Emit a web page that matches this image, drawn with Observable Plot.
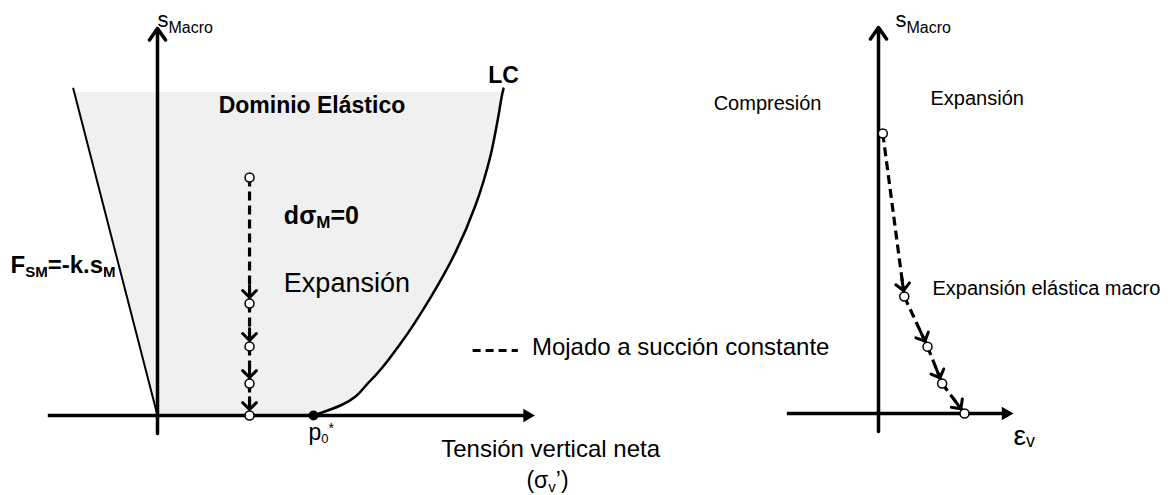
<!DOCTYPE html>
<html><head><meta charset="utf-8">
<script src="https://cdn.jsdelivr.net/npm/d3@7"></script>
<script src="https://cdn.jsdelivr.net/npm/@observablehq/plot@0.6"></script>
<style>
body{margin:0;background:#fff;}
#chart{position:relative;width:1171px;height:495px;overflow:hidden;}
#chart svg{position:absolute;left:0;top:0;}
</style></head><body><div id="chart"></div>
<script>
// ===== DATA (arbitrary schematic units) =====
// Left panel: net vertical stress σ'v (normalised by p0*) vs macro suction s_M
const p0Star = 1.0;
const lcSigma   = [1.000, 1.173, 1.365, 1.558, 1.750, 1.910, 2.038, 2.135, 2.186, 2.212, 2.218];
const lcSuction = [0.00, 0.31, 1.08, 2.23, 3.65, 5.05, 6.50, 8.05, 9.29, 10.00, 10.12];
const fsmSigma   = [0.00, -0.54];
const fsmSuction = [0.00, 10.12];
const elasticTop = 10.0;
const wetSigma = [0.59, 0.59, 0.59, 0.59, 0.59];
const wetSuctionLeft = [7.37, 3.47, 2.14, 0.99, 0.00];
// Right panel: volumetric strain ε_v vs macro suction s_M
const wetStrain = [0.05, 0.30, 0.57, 0.74, 1.00];
const wetSuctionRight = [8.67, 3.62, 2.07, 0.93, 0.00];
// Axis extents
const leftSigmaAxis = [-0.70, 2.42];
const leftSuctionAxis = [-0.56, 11.98];
const rightStrainAxis = [-1.06, 1.57];
const rightSuctionAxis = [-0.56, 11.95];
const legendSigma = [2.02, 2.31];
const legendSuction = 2.01;
// Texts
const txtSMacro = ["s", "Macro"];
const txtDomain = "Dominio Elástico";
const txtLC = "LC";
const txtDSigma = ["dσ", "M", "=0"];
const txtExp = "Expansión";
const txtFsm = ["F", "SM", "=-k.s", "M"];
const txtP0 = ["p", "0", "*"];
const txtXTitle = "Tensión vertical neta";
const txtXSym = ["(σ", "v", "’)"];
const txtLegend = "Mojado a succión constante";
const txtComp = "Compresión";
const txtExpR = "Expansión";
const txtExpMacro = "Expansión elástica macro";
const txtEps = ["ε", "v"];

// ===== LAYOUT =====
const W = 1171, H = 495;
const FONT = "Liberation Sans, Arial, Helvetica, sans-serif";
const leftSc = {x: {domain: [0, 1], range: [157, 313]}, y: {domain: [0, 10], range: [415, 92]}};
const rightSc = {x: {domain: [0, 1], range: [878, 964]}, y: {domain: [0, 10], range: [413, 90]}};

const ctx = document.createElement("canvas").getContext("2d");
function measure(t, size, weight) {
  ctx.font = `${weight} ${size}px "Liberation Sans", Arial, sans-serif`;
  return ctx.measureText(t).width;
}
// rich text: parts [{t,size,shift}] laid out on one baseline
function rich(x, y, parts, {anchor = "start", weight = "normal"} = {}) {
  const ws = parts.map(p => measure(p.t, p.size, weight));
  const total = d3.sum(ws);
  let off = anchor === "middle" ? -total / 2 : anchor === "end" ? -total : 0;
  return parts.map((p, i) => {
    const m = Plot.text([{x, y, t: p.t}], {
      x: "x", y: "y", text: "t", dx: off, dy: p.shift || 0,
      textAnchor: "start", lineAnchor: "bottom",
      fontSize: p.size, fontWeight: weight, fontFamily: FONT, fill: "black"
    });
    off += ws[i];
    return m;
  });
}
function segs(xs, ys) {
  return xs.slice(1).map((_, i) => ({x1: xs[i], y1: ys[i], x2: xs[i + 1], y2: ys[i + 1]}));
}
function heads(xs, ys, sc, back) {
  const fx = d3.scaleLinear(sc.x.domain, sc.x.range), fy = d3.scaleLinear(sc.y.domain, sc.y.range);
  const out = [];
  for (let i = 1; i < xs.length; i++) {
    const ax = fx(xs[i - 1]), ay = fy(ys[i - 1]), bx = fx(xs[i]), by = fy(ys[i]);
    const len = Math.hypot(bx - ax, by - ay), ux = (bx - ax) / len, uy = (by - ay) / len;
    out.push({x: fx.invert(bx - ux * back), y: fy.invert(by - uy * back), angle: Math.atan2(ux, -uy) * 180 / Math.PI});
  }
  return out;
}

// ===== LEFT PANEL =====
const lcPts = lcSigma.map((x, i) => ({x, y: lcSuction[i]}));
const fsmPts = fsmSigma.map((x, i) => ({x, y: fsmSuction[i]}));
const fillPts = lcPts.filter(d => d.y <= elasticTop).map(d => ({
  s: d.y, hi: d.x, lo: fsmSigma[1] * d.y / fsmSuction[1]
}));
const wetL = wetSigma.map((x, i) => ({x, y: wetSuctionLeft[i]}));

const left = Plot.plot({
  width: W, height: H, margin: 0,
  x: {...leftSc.x, axis: null}, y: {...leftSc.y, axis: null},
  style: {background: "transparent", overflow: "visible"},
  marks: [
    Plot.areaX(fillPts, {y: "s", x1: "lo", x2: "hi", fill: "#f0f0f0", curve: "monotone-y"}),
    Plot.line(fsmPts, {x: "x", y: "y", stroke: "black", strokeWidth: 2}),
    Plot.line(lcPts, {x: "x", y: "y", stroke: "black", strokeWidth: 2.5, curve: "monotone-y"}),
    Plot.ruleY([0], {x1: leftSigmaAxis[0], x2: leftSigmaAxis[1], insetRight: 8, stroke: "black", strokeWidth: 3.5}),
    Plot.dot([{x: leftSigmaAxis[1], y: 0}], {x: "x", y: "y", symbol: "triangle", r: 5, rotate: 90, dx: -7.8, fill: "black", stroke: "none"}),
    Plot.arrow([{x: 0, y1: leftSuctionAxis[0], y2: leftSuctionAxis[1]}], {x: "x", y1: "y1", y2: "y2", stroke: "black", strokeWidth: 3.5, headLength: 6, headAngle: 70}),
    Plot.link(segs(wetSigma, wetSuctionLeft), {x1: "x1", y1: "y1", x2: "x2", y2: "y2", stroke: "black", strokeWidth: 3.2, strokeDasharray: "9,5"}),
    Plot.vector(heads(wetSigma, wetSuctionLeft, leftSc, 6), {x: "x", y: "y", rotate: "angle", length: 12, anchor: "end", r: 10, stroke: "black", strokeWidth: 3}),
    Plot.dot(wetL, {x: "x", y: "y", r: 4.5, fill: "white", stroke: "black", strokeWidth: 1.5}),
    Plot.dot([{x: p0Star, y: 0}], {x: "x", y: "y", r: 5, fill: "black"}),
    Plot.link([{x1: legendSigma[0], x2: legendSigma[1], y: legendSuction}], {x1: "x1", x2: "x2", y1: "y", y2: "y", stroke: "black", strokeWidth: 3, strokeDasharray: "8,5"}),
    ...rich(0, 12.04, [{t: txtSMacro[0], size: 22}, {t: txtSMacro[1], size: 16, shift: 6}]),
    ...rich(0.99, 9.35, [{t: txtDomain, size: 23}], {anchor: "middle", weight: "bold"}),
    ...rich(2.12, 10.28, [{t: txtLC, size: 23}], {weight: "bold"}),
    ...rich(0.81, 5.94, [{t: txtDSigma[0], size: 25}, {t: txtDSigma[1], size: 17, shift: 4}, {t: txtDSigma[2], size: 25}], {weight: "bold"}),
    ...rich(0.81, 3.81, [{t: txtExp, size: 27}]),
    ...rich(-0.942, 4.40, [{t: txtFsm[0], size: 24}, {t: txtFsm[1], size: 15, shift: 4}, {t: txtFsm[2], size: 24}, {t: txtFsm[3], size: 15, shift: 4}], {weight: "bold"}),
    ...rich(0.968, -0.77, [{t: txtP0[0], size: 23}, {t: txtP0[1], size: 13, shift: 3}, {t: txtP0[2], size: 14, shift: -7}]),
    ...rich(2.52, -1.27, [{t: txtXTitle, size: 24}], {anchor: "middle"}),
    ...rich(2.5, -2.24, [{t: txtXSym[0], size: 23}, {t: txtXSym[1], size: 15, shift: 4}, {t: txtXSym[2], size: 23}], {anchor: "middle"}),
    ...rich(2.40, 1.86, [{t: txtLegend, size: 24}])
  ]
});

// ===== RIGHT PANEL =====
const wetR = wetStrain.map((x, i) => ({x, y: wetSuctionRight[i]}));
const right = Plot.plot({
  width: W, height: H, margin: 0,
  x: {...rightSc.x, axis: null}, y: {...rightSc.y, axis: null},
  style: {background: "transparent", overflow: "visible"},
  marks: [
    Plot.ruleY([0], {x1: rightStrainAxis[0], x2: rightStrainAxis[1], insetRight: 8, stroke: "black", strokeWidth: 3.5}),
    Plot.dot([{x: rightStrainAxis[1], y: 0}], {x: "x", y: "y", symbol: "triangle", r: 5, rotate: 90, dx: -7.8, fill: "black", stroke: "none"}),
    Plot.arrow([{x: 0, y1: rightSuctionAxis[0], y2: rightSuctionAxis[1]}], {x: "x", y1: "y1", y2: "y2", stroke: "black", strokeWidth: 3.5, headLength: 6, headAngle: 70}),
    Plot.link(segs(wetStrain, wetSuctionRight), {x1: "x1", y1: "y1", x2: "x2", y2: "y2", stroke: "black", strokeWidth: 3.2, strokeDasharray: "9,5"}),
    Plot.vector(heads(wetStrain, wetSuctionRight, rightSc, 6), {x: "x", y: "y", rotate: "angle", length: 12, anchor: "end", r: 10, stroke: "black", strokeWidth: 3}),
    Plot.dot(wetR, {x: "x", y: "y", r: 4.5, fill: "white", stroke: "black", strokeWidth: 1.5}),
    ...rich(0.198, 11.98, [{t: txtSMacro[0], size: 22}, {t: txtSMacro[1], size: 16, shift: 6}]),
    ...rich(-1.29, 9.41, [{t: txtComp, size: 20}], {anchor: "middle"}),
    ...rich(0.605, 9.54, [{t: txtExpR, size: 20}]),
    ...rich(0.628, 3.68, [{t: txtExpMacro, size: 20}]),
    ...rich(1.57, -0.99, [{t: txtEps[0], size: 28}, {t: txtEps[1], size: 18, shift: 2}])
  ]
});

const chart = document.getElementById("chart");
chart.appendChild(left);
chart.appendChild(right);
</script></body></html>
